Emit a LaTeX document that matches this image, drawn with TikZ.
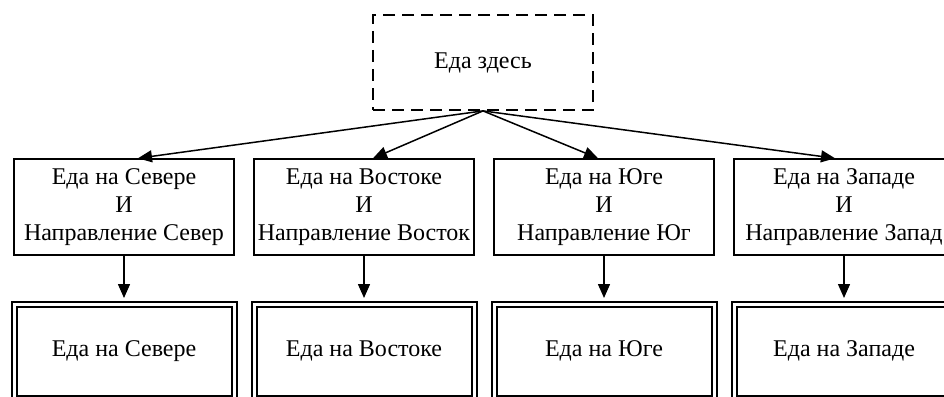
\documentclass[tikz,border=0pt]{standalone}
\usepackage{fontspec}
\setmainfont{Liberation Serif}
\usetikzlibrary{arrows.meta, positioning}

\begin{document}
\begin{tikzpicture}[x=1pt, y=-1pt, >={Triangle[length=14pt, width=12pt]},
  every node/.style={font=\fontsize{24}{28}\selectfont},
  goal/.style={draw, line width=1.8pt, dash pattern=on 12pt off 7pt, minimum width=220pt, minimum height=95pt},
  cond/.style={draw, line width=1.5pt, align=center, minimum width=220pt, minimum height=96pt, inner sep=1pt},
  result/.style={draw, line width=2pt, double, double distance=3pt, minimum width=220pt, minimum height=94pt, outer sep=6pt},
  link/.style={->, line width=1.5pt}]
\useasboundingbox (0,0) rectangle (944,396);
\clip (0,0) rectangle (944,396);
\node[goal] (here) at (483, 62.5) {Еда здесь};
\foreach \i/\name/\dir/\dx in {0/Севере/Север/14, 1/Востоке/Восток/9, 2/Юге/Юг/-6, 3/Западе/Запад/-9}
{
    \node[cond] (c\i) at (124+240*\i, 207) {Еда на \name\\И\\Направление \dir};
    \node[result] (r\i) at (124+240*\i, 351) {Еда на \name};
    \draw[link] (here.south) -- ([xshift=\dx pt]c\i.north);
    \draw[link] (c\i.south) -- (r\i.north);
}
\end{tikzpicture}
\end{document}
